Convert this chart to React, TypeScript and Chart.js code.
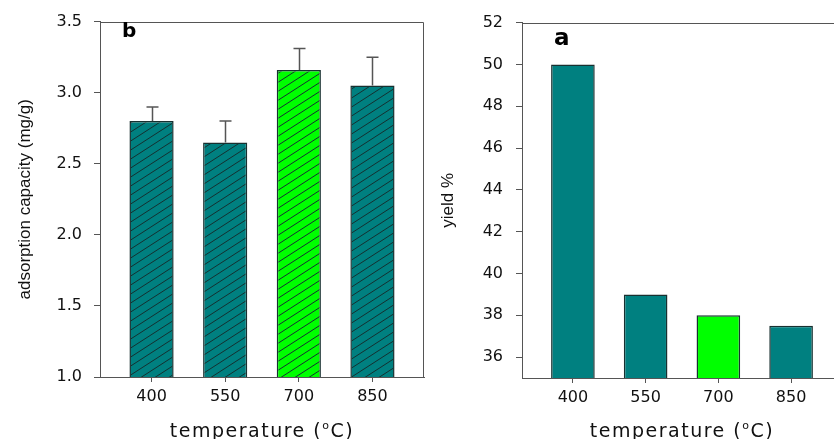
import React, { useEffect, useRef } from "react";
import { Chart, registerables } from "chart.js";

Chart.register(...registerables);

// ---------- data ----------
const temperatures = [400, 550, 700, 850];
const temperatureLabels = ["400", "550", "700", "850"];
const adsorptionCapacity = [2.8, 2.65, 3.16, 3.05];
const adsorptionErrorUpper = [2.9, 2.8, 3.31, 3.25];
const adsorptionTicks = [1.0, 1.5, 2.0, 2.5, 3.0, 3.5];
const yieldPercent = [50, 39, 38, 37.5];
const yieldTicks = [36, 38, 40, 42, 44, 46, 48, 50, 52];
const highlighted = [false, false, true, false];

// ---------- styles ----------
const TEAL = "#008080";
const GREEN = "#00ff00";
const AXIS = "#555555";
const BAR_EDGE = "#183030";
const TEXT = "#111111";
const TICK_FONT = { family: "'DejaVu Sans', sans-serif", size: 16 };
const TITLE_FONT = { family: "'Liberation Sans', Arial, sans-serif", size: 17 };

function hatch(bg: string): CanvasPattern | string {
  const c = document.createElement("canvas");
  const w = 14;
  const h = 9;
  c.width = w;
  c.height = h;
  const g = c.getContext("2d");
  if (!g) return bg;
  g.fillStyle = bg;
  g.fillRect(0, 0, w, h);
  g.strokeStyle = "#143030";
  g.lineWidth = 1;
  for (let k = -1; k <= 1; k++) {
    g.beginPath();
    g.moveTo(0, h + k * h);
    g.lineTo(w, k * h);
    g.stroke();
  }
  return g.createPattern(c, "repeat") || bg;
}

function framePlugin() {
  return {
    id: "frame",
    afterDraw(chart: any) {
      const { ctx, chartArea } = chart;
      ctx.save();
      ctx.strokeStyle = AXIS;
      ctx.lineWidth = 1;
      ctx.beginPath();
      const l = Math.round(chartArea.left) + 0.5;
      const t = Math.round(chartArea.top) + 0.5;
      const r = Math.round(chartArea.right) - 0.5;
      const b = Math.round(chartArea.bottom) + 0.5;
      ctx.moveTo(l, b);
      ctx.lineTo(l, t);
      ctx.lineTo(r, t);
      ctx.lineTo(r, b);
      ctx.stroke();
      ctx.restore();
    },
  };
}

function xTitlePlugin() {
  return {
    id: "xtitle",
    afterDraw(chart: any) {
      const { ctx, chartArea } = chart;
      ctx.save();
      ctx.fillStyle = TEXT;
      ctx.textBaseline = "alphabetic";
      ctx.textAlign = "left";
      try {
        (ctx as any).letterSpacing = "1.5px";
      } catch (e) {}
      const big = "19px 'DejaVu Sans', sans-serif";
      const small = "11px 'DejaVu Sans', sans-serif";
      const p1 = "temperature (";
      const p2 = "o";
      const p3 = "C)";
      ctx.font = big;
      const w1 = ctx.measureText(p1).width;
      const w3 = ctx.measureText(p3).width;
      ctx.font = small;
      const w2 = ctx.measureText(p2).width;
      const total = w1 + w2 + w3;
      const cx = (chartArea.left + chartArea.right) / 2;
      let x = cx - total / 2;
      const base = 437;
      ctx.font = big;
      ctx.fillText(p1, x, base);
      x += w1;
      ctx.font = small;
      ctx.fillText(p2, x, base - 8);
      x += w2;
      ctx.font = big;
      ctx.fillText(p3, x, base);
      ctx.restore();
    },
  };
}

function panelLabelPlugin(text: string, x: number, y: number, size: number) {
  return {
    id: "panelLabel",
    afterDraw(chart: any) {
      const { ctx } = chart;
      ctx.save();
      ctx.fillStyle = "#000";
      ctx.font = `bold ${size}px 'DejaVu Sans', sans-serif`;
      ctx.textAlign = "left";
      ctx.textBaseline = "alphabetic";
      ctx.fillText(text, x, y);
      ctx.restore();
    },
  };
}

const errorBarPlugin = {
  id: "errorBars",
  afterDatasetsDraw(chart: any) {
    const { ctx } = chart;
    const meta = chart.getDatasetMeta(0);
    const ys = chart.scales.y;
    ctx.save();
    ctx.strokeStyle = AXIS;
    ctx.lineWidth = 1.5;
    meta.data.forEach((bar: any, i: number) => {
      const x = Math.round(bar.x) + 0.5;
      const yTop = ys.getPixelForValue(adsorptionErrorUpper[i]);
      const yBar = bar.y;
      ctx.beginPath();
      ctx.moveTo(x, yBar);
      ctx.lineTo(x, yTop);
      ctx.moveTo(x - 6, yTop);
      ctx.lineTo(x + 6, yTop);
      ctx.stroke();
    });
    ctx.restore();
  },
};

function xScale(height: number) {
  return {
    type: "linear",
    min: 295,
    max: 955,
    offset: false,
    afterBuildTicks: (s: any) => {
      s.ticks = temperatures.map((v) => ({ value: v }));
    },
    afterFit: (s: any) => {
      s.height = height;
    },
    ticks: {
      callback: (_v: any, i: number) => temperatureLabels[i],
      font: TICK_FONT,
      color: TEXT,
      padding: 5,
      maxRotation: 0,
      autoSkip: false,
    },
    grid: {
      offset: false,
      drawOnChartArea: false,
      drawTicks: true,
      tickLength: 5,
      color: AXIS,
    },
    border: { color: AXIS, width: 1 },
  };
}

function yScale(
  min: number,
  max: number,
  ticks: number[],
  width: number,
  padTick: number,
  title: string,
  titlePad: number,
  fmt: (v: number) => string
) {
  return {
    type: "linear",
    min,
    max,
    afterBuildTicks: (s: any) => {
      s.ticks = ticks.map((v) => ({ value: v }));
    },
    afterFit: (s: any) => {
      s.width = width;
    },
    ticks: {
      callback: (v: any) => fmt(Number(v)),
      font: TICK_FONT,
      color: TEXT,
      padding: padTick,
    },
    grid: {
      drawOnChartArea: false,
      drawTicks: true,
      tickLength: 6,
      color: AXIS,
    },
    border: { color: AXIS, width: 1 },
    title: {
      display: true,
      text: title,
      font: TITLE_FONT,
      color: TEXT,
      padding: { top: titlePad, bottom: 0 },
    },
  };
}

function AdsorptionChart() {
  const ref = useRef<HTMLCanvasElement | null>(null);
  useEffect(() => {
    if (!ref.current) return;
    const chart = new Chart(ref.current, {
      type: "bar",
      data: {
        datasets: [
          {
            data: temperatures.map((t, i) => ({ x: t, y: adsorptionCapacity[i] })),
            backgroundColor: highlighted.map((h) => hatch(h ? GREEN : TEAL)),
            borderColor: BAR_EDGE,
            borderWidth: 1.5,
            categoryPercentage: 1,
            barPercentage: 0.6,
          } as any,
        ],
      },
      options: {
        responsive: false,
        animation: false,
        layout: { padding: { top: 18, right: 6, left: 0, bottom: 0 } },
        plugins: { legend: { display: false }, tooltip: { enabled: false } },
        scales: {
          x: xScale(62) as any,
          y: yScale(1, 3.5, adsorptionTicks, 100, 12, "adsorption capacity (mg/g)", 15, (v) => v.toFixed(1)) as any,
        },
      },
      plugins: [errorBarPlugin, framePlugin(), xTitlePlugin(), panelLabelPlugin("b", 122, 36.5, 20)],
    });
    return () => chart.destroy();
  }, []);
  return (
    <canvas
      ref={ref}
      width={430}
      height={439}
      style={{ position: "absolute", left: 0, top: 0, width: 430, height: 439 }}
    />
  );
}

function YieldChart() {
  const ref = useRef<HTMLCanvasElement | null>(null);
  useEffect(() => {
    if (!ref.current) return;
    const chart = new Chart(ref.current, {
      type: "bar",
      data: {
        datasets: [
          {
            data: temperatures.map((t, i) => ({ x: t, y: yieldPercent[i] })),
            backgroundColor: highlighted.map((h) => (h ? GREEN : TEAL)),
            borderColor: BAR_EDGE,
            borderWidth: 1.5,
            categoryPercentage: 1,
            barPercentage: 0.6,
          } as any,
        ],
      },
      options: {
        responsive: false,
        animation: false,
        layout: { padding: { top: 19, right: 8, left: 0, bottom: 0 } },
        plugins: { legend: { display: false }, tooltip: { enabled: false } },
        scales: {
          x: xScale(61) as any,
          y: yScale(35, 52, yieldTicks, 92, 13, "yield %", 8, (v) => String(v)) as any,
        },
      },
      plugins: [framePlugin(), xTitlePlugin(), panelLabelPlugin("a", 124, 45, 23)],
    });
    return () => chart.destroy();
  }, []);
  return (
    <canvas
      ref={ref}
      width={420}
      height={439}
      style={{ position: "absolute", left: 430, top: 0, width: 420, height: 439 }}
    />
  );
}

export default function App() {
  return (
    <div
      style={{
        position: "fixed",
        left: 0,
        top: 0,
        width: 834,
        height: 439,
        overflow: "hidden",
        background: "#ffffff",
      }}
    >
      <AdsorptionChart />
      <YieldChart />
    </div>
  );
}
